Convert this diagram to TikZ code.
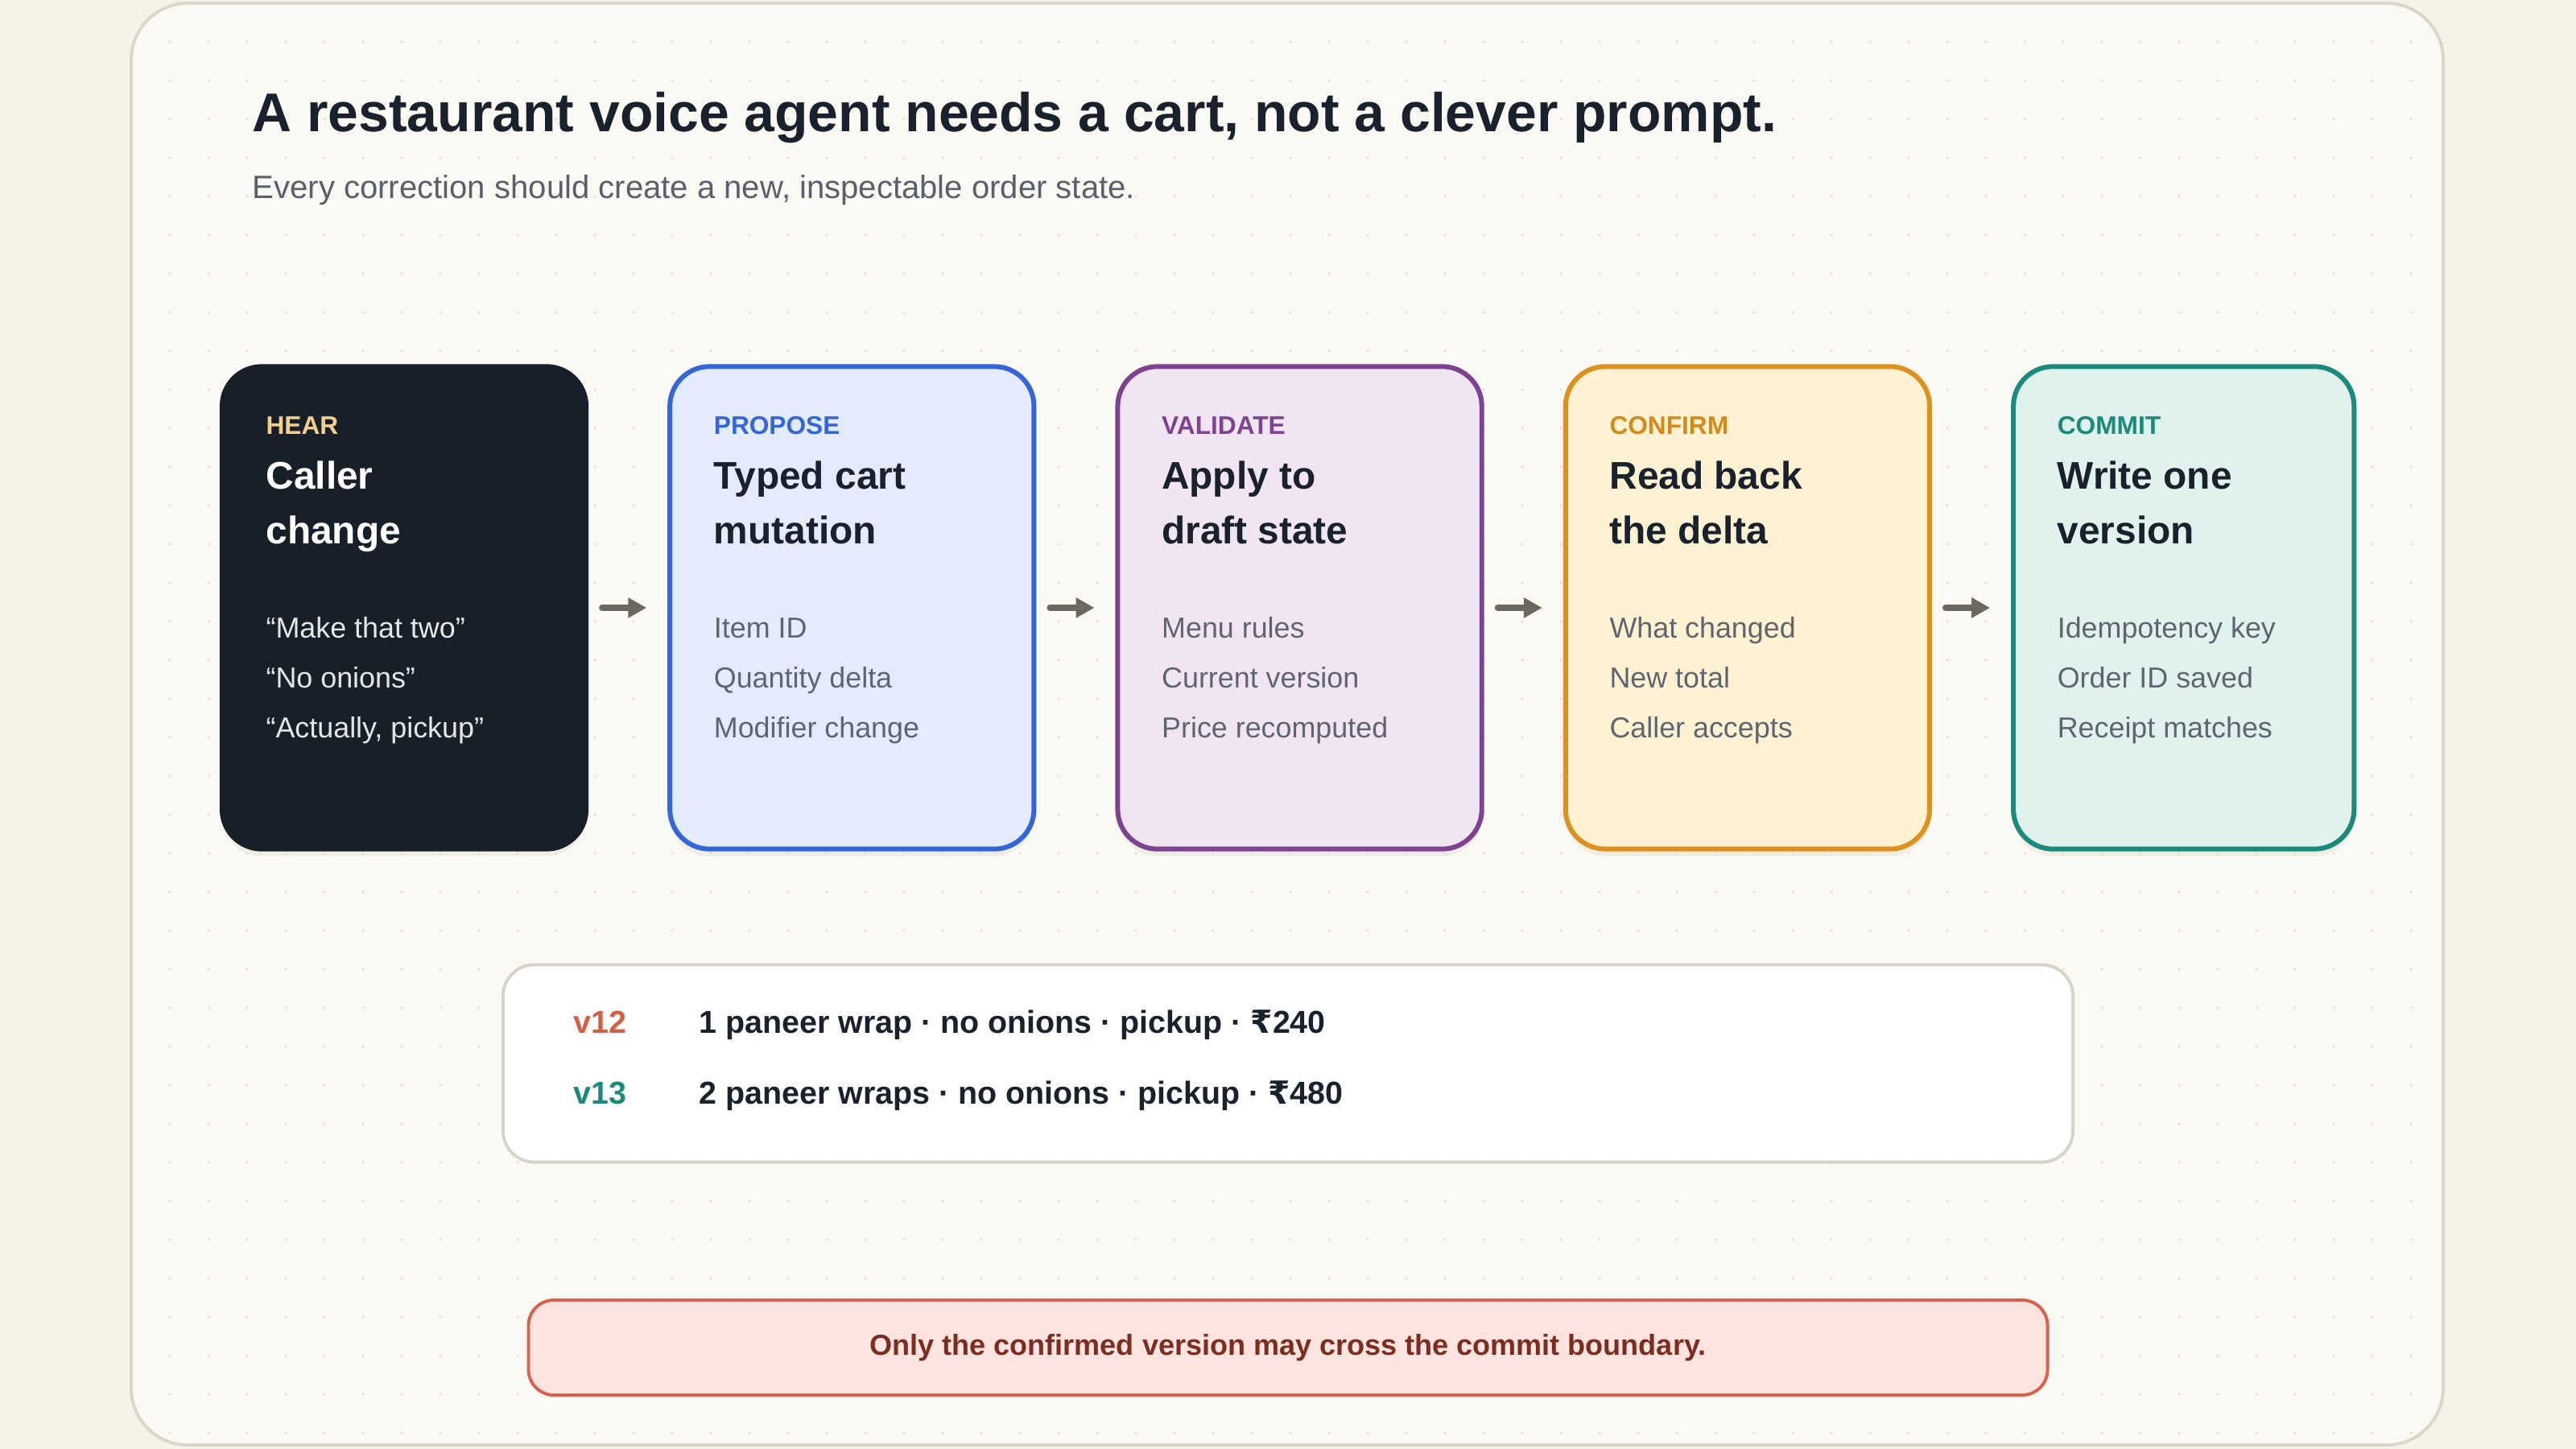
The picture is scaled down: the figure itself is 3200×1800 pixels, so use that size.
\documentclass[tikz,border=0pt]{standalone}
\usepackage{fontspec}
\setmainfont{Liberation Sans}
\newfontfamily\rupeefont{DejaVu Sans}
\usetikzlibrary{positioning,arrows.meta,shadows}

\definecolor{pagebg}{HTML}{F6F2E8}
\definecolor{panelbg}{HTML}{FBF9F3}
\definecolor{panelline}{HTML}{D9D6CC}
\definecolor{griddot}{HTML}{E4E0D7}
\definecolor{ink}{HTML}{18212C}
\definecolor{subink}{HTML}{5A606B}
\definecolor{muted}{HTML}{5F6570}
\definecolor{night}{HTML}{172029}
\definecolor{gold}{HTML}{F3CF8E}
\definecolor{pale}{HTML}{E5E7EB}
\definecolor{blueline}{HTML}{3465D9}
\definecolor{bluefill}{HTML}{E3EBFC}
\definecolor{plumline}{HTML}{7D4390}
\definecolor{plumfill}{HTML}{F1E5F4}
\definecolor{amberline}{HTML}{DD911F}
\definecolor{amberink}{HTML}{D28A1A}
\definecolor{amberfill}{HTML}{FFF2D2}
\definecolor{tealline}{HTML}{1A8A7A}
\definecolor{tealfill}{HTML}{DFF2ED}
\definecolor{cartline}{HTML}{D6D3C9}
\definecolor{oldver}{HTML}{D55F45}
\definecolor{rulefill}{HTML}{FDE4DF}
\definecolor{ruleline}{HTML}{D9604A}
\definecolor{ruleink}{HTML}{7B2D21}
\definecolor{arrowgray}{HTML}{6C685F}
\definecolor{shade}{HTML}{E9E5DB}

\newcommand{\rupee}{{\rupeefont ₹}}

\begin{document}
\begin{tikzpicture}[x=0.01cm,y=-0.01cm,node distance=0.98cm,
    card/.style={line width=1.7pt, rounded corners=14pt, inner sep=0pt,
      minimum width=4.52cm, minimum height=5.99cm,
      drop shadow={shadow xshift=0pt, shadow yshift=-2.5pt, fill=shade, opacity=0.6}},
    txt/.style={inner sep=0pt, anchor=base west},
    tag/.style={txt, font=\fontsize{9}{10}\selectfont\bfseries},
    head/.style={txt, font=\fontsize{13.6}{16}\selectfont\bfseries},
    item/.style={txt, font=\fontsize{10.2}{12}\selectfont},
    ver/.style={txt, font=\fontsize{11.2}{13}\selectfont\bfseries},
    flow/.style={-{Triangle[length=6.5pt,width=6.8pt]}, line width=2.3pt, line cap=round,
      draw=arrowgray, shorten <=0.17cm, shorten >=0.26cm}]

  % page and dotted panel
  \useasboundingbox (0,0) rectangle (3200,1800);
  \fill[pagebg] (0,0) rectangle (3200,1800);
  \filldraw[fill=panelbg, draw=panelline, line width=1.1pt, rounded corners=20pt]
    (163,4) rectangle (3035,1795);
  \begin{scope}
    \clip[rounded corners=20pt] (163,4) rectangle (3035,1795);
    \foreach \x in {211,259,...,3010}
      \foreach \y in {52,100,...,1790}
        \fill[griddot] (\x,\y) circle[radius=0.55pt];
  \end{scope}

  % heading
  \node[txt, text=ink, font=\fontsize{19.3}{23}\selectfont\bfseries] (title) at (313,163)
    {A restaurant voice agent needs a cart, not a clever prompt.};
  \node[txt, text=subink, font=\fontsize{11.4}{14}\selectfont] (subtitle) at (313,247)
    {Every correction should create a new, inspectable order state.};

  % pipeline cards
  \node[card, draw=night, fill=night] (hear) at (502,755) {};
  \node[card, draw=blueline, fill=bluefill, right=of hear] (propose) {};
  \node[card, draw=plumline, fill=plumfill, right=of propose] (validate) {};
  \node[card, draw=amberline, fill=amberfill, right=of validate] (confirm) {};
  \node[card, draw=tealline, fill=tealfill, minimum width=4.23cm, right=of confirm] (commit) {};

  \foreach \n/\lc/\tc/\mc/\tg/\ta/\tb/\ia/\ib/\ic in {
      hear/gold/white/pale/HEAR/Caller/change/{“Make that two”}/{“No onions”}/{“Actually, pickup”},
      propose/blueline/ink/muted/PROPOSE/Typed cart/mutation/Item ID/Quantity delta/Modifier change,
      validate/plumline/ink/muted/VALIDATE/Apply to/draft state/Menu rules/Current version/Price recomputed,
      confirm/amberink/ink/muted/CONFIRM/Read back/the delta/What changed/New total/Caller accepts,
      commit/tealline/ink/muted/COMMIT/Write one/version/Idempotency key/Order ID saved/Receipt matches}
  {
    \node[tag, text=\lc] (\n-tag) at ([shift={(57,87)}]\n.north west) {\tg};
    \node[head, text=\tc] (\n-h1) at ([shift={(57,155)}]\n.north west) {\ta};
    \node[head, text=\tc] (\n-h2) at ([shift={(57,223)}]\n.north west) {\tb};
    \node[item, text=\mc] (\n-i1) at ([shift={(57,340)}]\n.north west) {\ia};
    \node[item, text=\mc] (\n-i2) at ([shift={(57,402)}]\n.north west) {\ib};
    \node[item, text=\mc] (\n-i3) at ([shift={(57,464)}]\n.north west) {\ic};
  }

  \foreach \a/\b in {hear/propose, propose/validate, validate/confirm, confirm/commit}
    \draw[flow] (\a) -- (\b);

  % cart versions
  \node[draw=cartline, fill=white, line width=1.1pt, rounded corners=11pt,
    minimum width=19.49cm, minimum height=2.45cm] (cart) at (1600,1321) {};
  \node[ver, text=oldver] (v12) at (712,1283) {v12};
  \node[ver, text=ink] (v12-row) at (868,1283) {1 paneer wrap · no onions · pickup · \rupee240};
  \node[ver, text=tealline] (v13) at (712,1371) {v13};
  \node[ver, text=ink] (v13-row) at (868,1371) {2 paneer wraps · no onions · pickup · \rupee480};

  % boundary rule
  \node[draw=ruleline, fill=rulefill, line width=1.1pt, rounded corners=9pt,
    minimum width=18.86cm, minimum height=1.18cm, text=ruleink,
    font=\fontsize{10.25}{12}\selectfont\bfseries] (rule) at (1600,1674)
    {Only the confirmed version may cross the commit boundary.};
\end{tikzpicture}
\end{document}
